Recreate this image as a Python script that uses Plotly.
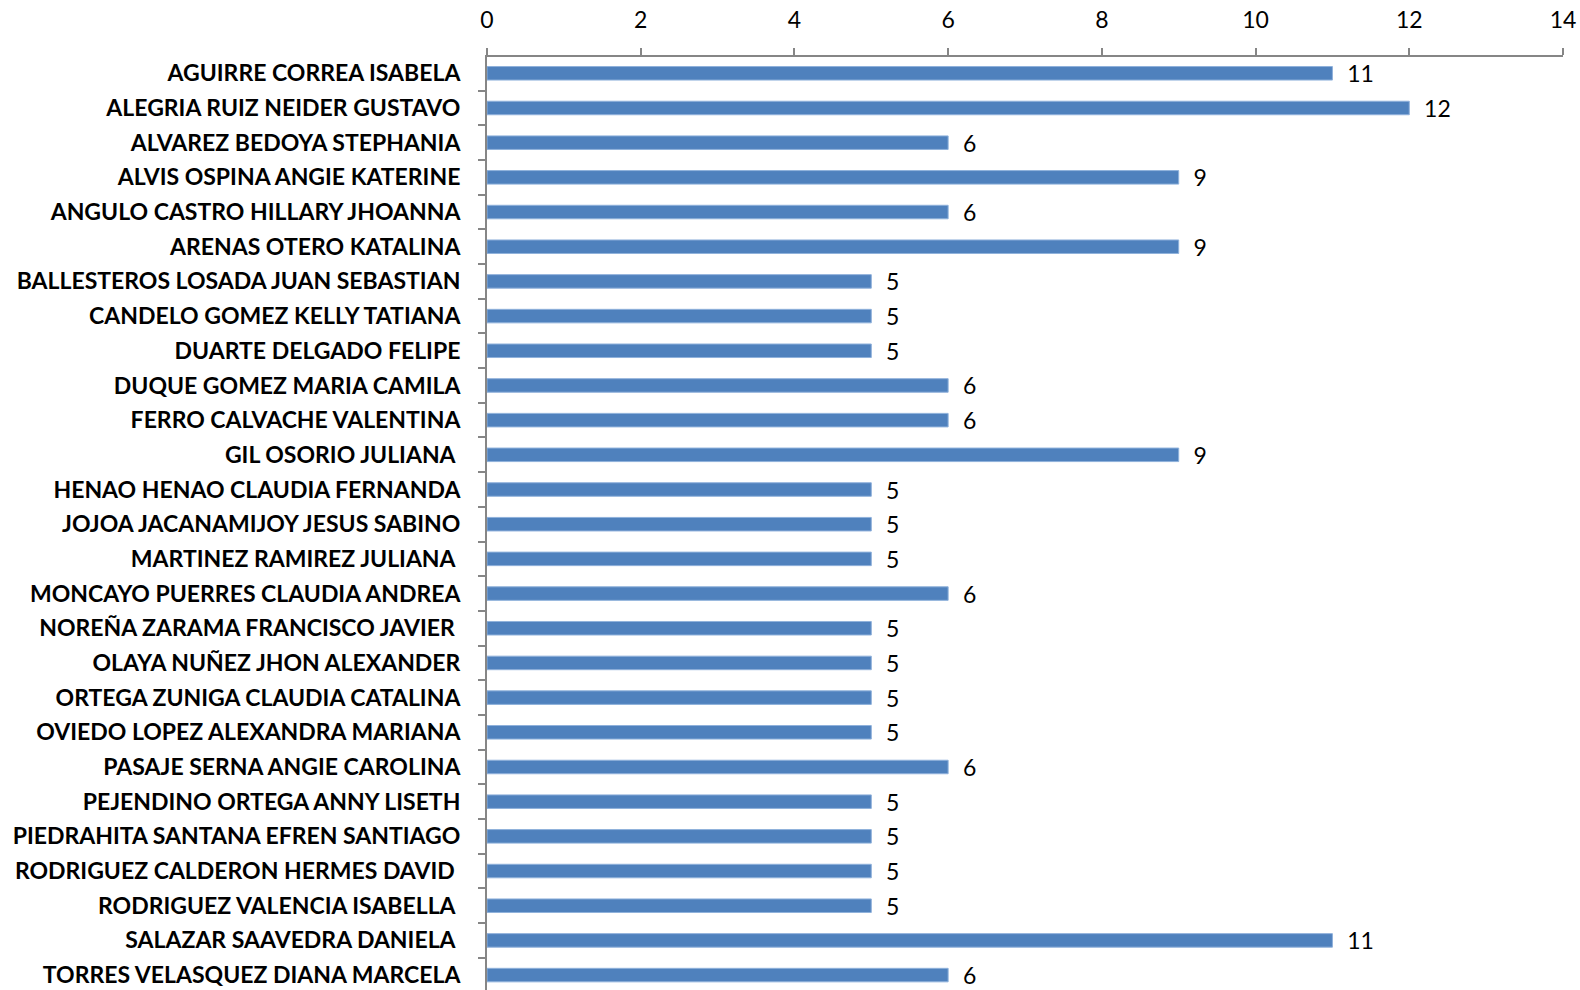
import plotly.graph_objects as go

names = [
    "AGUIRRE CORREA ISABELA",
    "ALEGRIA RUIZ NEIDER GUSTAVO",
    "ALVAREZ BEDOYA STEPHANIA",
    "ALVIS OSPINA ANGIE KATERINE",
    "ANGULO CASTRO HILLARY JHOANNA",
    "ARENAS OTERO KATALINA",
    "BALLESTEROS LOSADA JUAN SEBASTIAN",
    "CANDELO GOMEZ KELLY TATIANA",
    "DUARTE DELGADO FELIPE",
    "DUQUE GOMEZ MARIA CAMILA",
    "FERRO CALVACHE VALENTINA",
    "GIL OSORIO JULIANA\u00a0",
    "HENAO HENAO CLAUDIA FERNANDA",
    "JOJOA JACANAMIJOY JESUS SABINO",
    "MARTINEZ RAMIREZ JULIANA\u00a0",
    "MONCAYO PUERRES CLAUDIA ANDREA",
    "NOREÑA ZARAMA FRANCISCO JAVIER\u00a0",
    "OLAYA NUÑEZ JHON ALEXANDER",
    "ORTEGA ZUNIGA CLAUDIA CATALINA",
    "OVIEDO LOPEZ ALEXANDRA MARIANA",
    "PASAJE SERNA ANGIE CAROLINA",
    "PEJENDINO ORTEGA ANNY LISETH",
    "PIEDRAHITA SANTANA EFREN SANTIAGO",
    "RODRIGUEZ CALDERON HERMES DAVID\u00a0",
    "RODRIGUEZ VALENCIA ISABELLA\u00a0",
    "SALAZAR SAAVEDRA DANIELA\u00a0",
    "TORRES VELASQUEZ DIANA MARCELA",
]

values = [11, 12, 6, 9, 6, 9, 5, 5, 5, 6, 6, 9, 5, 5, 5, 6, 5, 5, 5, 5, 6, 5, 5, 5, 5, 11, 6]

x_ticks = [0, 2, 4, 6, 8, 10, 12, 14]

pad = "\u00a0\u00a0"

fig = go.Figure(
    go.Bar(
        x=values,
        y=names,
        orientation="h",
        marker=dict(color="#4F81BD", line=dict(color="#8FB1DB", width=1)),
        text=[pad + str(v) for v in values],
        textposition="outside",
        constraintext="none",
        cliponaxis=False,
        textfont=dict(family="Lato", size=23, color="#000000"),
        width=0.39,
        hoverinfo="skip",
    )
)

fig.update_layout(
    width=1580,
    height=990,
    margin=dict(l=487, r=17, t=57, b=0),
    paper_bgcolor="white",
    plot_bgcolor="white",
    showlegend=False,
    font=dict(family="Lato", color="#000000"),
)

fig.update_xaxes(
    side="top",
    range=[0, 14],
    tickvals=x_ticks,
    ticktext=[str(t) for t in x_ticks],
    showgrid=False,
    zeroline=False,
    showline=True,
    linecolor="#868686",
    linewidth=2,
    ticks="outside",
    ticklen=7,
    tickwidth=2,
    tickcolor="#868686",
    tickfont=dict(family="Lato", size=23, color="#000000"),
    ticklabelstandoff=11,
)

fig.update_yaxes(
    range=[26.43, -0.47],
    categoryorder="array",
    categoryarray=names,
    showgrid=False,
    zeroline=False,
    showline=True,
    linecolor="#868686",
    linewidth=2,
    ticks="outside",
    tickson="boundaries",
    ticklen=7,
    tickwidth=2,
    tickcolor="#868686",
    tickfont=dict(family="Lato", size=23, color="#000000", weight="bold"),
    ticklabelstandoff=20,
)

fig.write_html(
    "out.html",
    config={"displayModeBar": False},
    post_script="document.body.style.margin='0';document.body.style.overflow='hidden';",
)
